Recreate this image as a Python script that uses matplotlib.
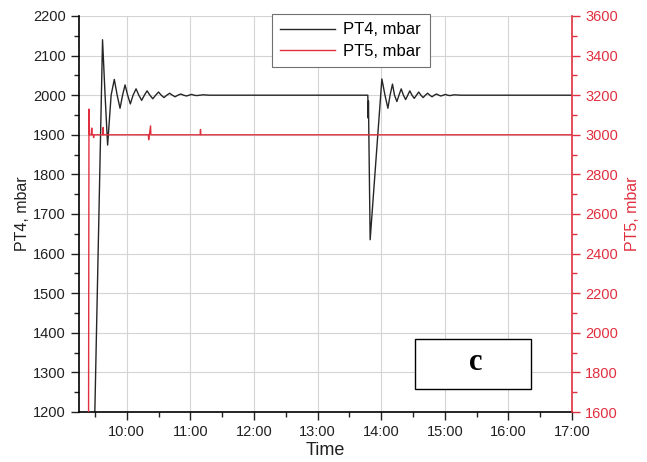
import matplotlib
matplotlib.use("Agg")
import matplotlib.pyplot as plt
from matplotlib.patches import Rectangle
from matplotlib.ticker import MultipleLocator

# ---- data (time in hours) ----
pt4_time = [9.25, 9.486, 9.62, 9.66, 9.70, 9.755, 9.805, 9.85, 9.895, 9.935, 9.974,
            10.015, 10.057, 10.10, 10.147, 10.19, 10.235, 10.278, 10.32, 10.365, 10.41,
            10.455, 10.50, 10.543, 10.585, 10.63, 10.675, 10.718, 10.76, 10.805, 10.85,
            10.895, 10.94, 10.98, 11.02, 11.06, 11.10, 11.15, 11.20, 11.30,
            13.790, 13.797, 13.800, 13.827, 14.011, 14.06, 14.106, 14.14, 14.178, 14.21,
            14.247, 14.28, 14.315, 14.35, 14.385, 14.418, 14.45, 14.485, 14.52, 14.555,
            14.59, 14.625, 14.66, 14.695, 14.73, 14.765, 14.80, 14.835, 14.87, 14.905,
            14.94, 14.975, 15.01, 15.045, 15.08, 15.115, 15.15, 15.25, 17.0]
pt4_vals = [1100, 1100, 2140, 2000, 1874, 2000, 2040, 2000, 1967, 2000, 2026,
            2000, 1978, 2000, 2016, 2000, 1987, 2000, 2011, 2000, 1991,
            2000, 2008, 2000, 1994, 2000, 2005, 2000, 1996, 2000, 2003,
            2000, 1998, 2000, 2002, 2000, 1999, 2000, 2001, 2000,
            2000, 1942, 1985, 1635, 2041, 2000, 1967, 2000, 2028, 2000,
            1984, 2000, 2016, 2000, 1989, 2000, 2011, 2000, 1992, 2000,
            2008, 2000, 1994, 2000, 2005, 2000, 1996, 2000, 2003, 2000,
            1998, 2000, 2002, 2000, 1999, 2000, 2001, 2000, 2000]

pt5_time = [9.25, 9.400, 9.407, 9.415, 9.445, 9.450, 9.455, 9.475, 9.480, 9.485, 9.625,
            9.630, 9.635, 10.34, 10.345, 10.375, 10.38, 11.155, 11.16, 11.165, 17.0]
pt5_vals = [1500, 1500, 3130, 3000, 3000, 3034, 3000, 3000, 2986, 3000, 3000,
            3037, 3000, 3000, 2975, 3045, 3000, 3000, 3027, 3000, 3000]

x_ticks = [10, 11, 12, 13, 14, 15, 16, 17]
x_labels = ["10:00", "11:00", "12:00", "13:00", "14:00", "15:00", "16:00", "17:00"]
left_ticks = [1200, 1300, 1400, 1500, 1600, 1700, 1800, 1900, 2000, 2100, 2200]
right_ticks = [1600, 1800, 2000, 2200, 2400, 2600, 2800, 3000, 3200, 3400, 3600]

RED = "#E0303F"
FONT = ["Liberation Sans", "DejaVu Sans"]
plt.rcParams["font.family"] = FONT

fig = plt.figure(figsize=(6.47, 4.62), dpi=100)
ax = fig.add_axes([79 / 647, 1 - 412 / 462, 493 / 647, 396 / 462])
ax2 = ax.twinx()

ax.set_xlim(9.25, 17.0)
ax.set_ylim(1200, 2200)
ax2.set_ylim(1600, 3600)

ax.grid(True, color="#d4d4d4", linewidth=0.8)
ax.set_axisbelow(True)

l1, = ax.plot(pt4_time, pt4_vals, color="#262626", linewidth=1.0, label="PT4, mbar")
l2, = ax2.plot(pt5_time, pt5_vals, color=RED, linewidth=1.0, label="PT5, mbar")

ax.set_xticks(x_ticks)
ax.set_xticklabels(x_labels)
ax.xaxis.set_minor_locator(MultipleLocator(0.5))
ax.set_yticks(left_ticks)
ax.yaxis.set_minor_locator(MultipleLocator(50))
ax2.set_yticks(right_ticks)
ax2.yaxis.set_minor_locator(MultipleLocator(100))

for a in (ax, ax2):
    a.spines["top"].set_visible(False)
ax.spines["right"].set_visible(False)
ax2.spines["left"].set_visible(False)
ax2.spines["bottom"].set_visible(False)
ax2.spines["right"].set_color(RED)
ax2.spines["right"].set_linewidth(1.2)
ax.spines["left"].set_linewidth(1.2)
ax.spines["bottom"].set_linewidth(1.2)

ax.tick_params(axis="both", which="major", direction="out", length=6, width=1.0,
               labelsize=10.5, colors="#202020")
ax.tick_params(axis="both", which="minor", direction="out", length=3.5, width=1.0,
               colors="#202020")
ax.tick_params(axis="x", which="both", top=False)
ax2.tick_params(axis="y", which="major", direction="out", length=6, width=1.0,
                labelsize=10.5, colors=RED)
ax2.tick_params(axis="y", which="minor", direction="out", length=3.5, width=1.0,
                colors=RED)

ax.set_xlabel("Time", fontsize=13, color="#202020", labelpad=2)
ax.set_ylabel("PT4, mbar", fontsize=11.5, color="#202020", labelpad=2)
ax2.set_ylabel("PT5, mbar", fontsize=11.5, color=RED, labelpad=5)

leg = ax.legend(handles=[l1, l2], loc="upper left", bbox_to_anchor=(0.391, 1.005),
                borderaxespad=0, fontsize=12, frameon=True, fancybox=False,
                framealpha=1, edgecolor="#707070", borderpad=0.5, labelspacing=0.4,
                handlelength=3.3, handletextpad=0.5)
leg.get_frame().set_linewidth(0.8)
leg.set_zorder(10)

box = Rectangle((0.6815, 0.058), 0.917 - 0.6815, 0.184 - 0.058, transform=ax.transAxes,
                facecolor="white", edgecolor="black", linewidth=1.0, zorder=9,
                clip_on=False)
ax2.add_patch(box)
ax2.text(0.805, 0.125, "c", transform=ax.transAxes, ha="center",
         va="center", fontsize=22, fontweight="bold",
         family=["Liberation Serif", "DejaVu Serif"], zorder=11)

fig.savefig("out.png", dpi=100)
